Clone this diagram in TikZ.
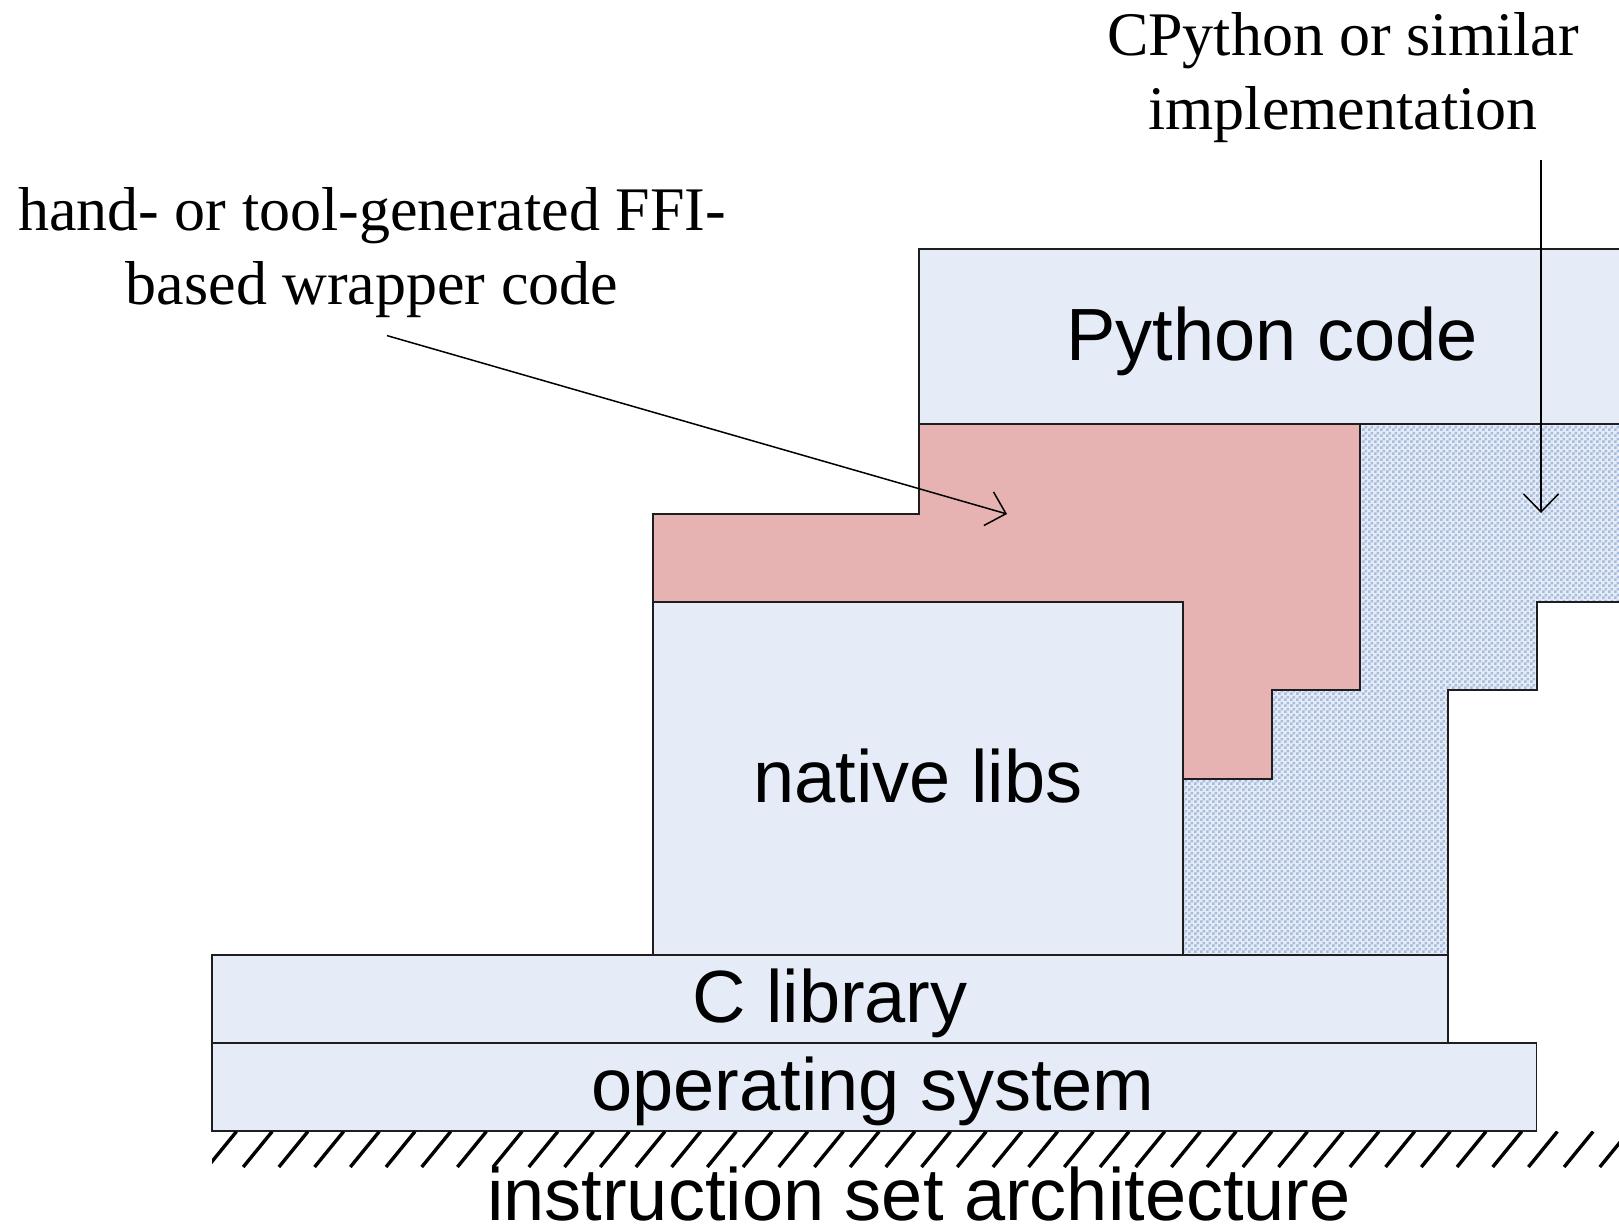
\documentclass[tikz,border=0pt]{standalone}
\usepackage{fontspec}
\setmainfont{Liberation Serif}
\newfontfamily\arialf{Liberation Sans}
\usetikzlibrary{arrows.meta,patterns}
\pgfdeclarepatternformonly{checker}{\pgfqpoint{0pt}{0pt}}{\pgfqpoint{6pt}{6pt}}{\pgfqpoint{6pt}{6pt}}{%
  \pgfpathrectangle{\pgfqpoint{0pt}{0pt}}{\pgfqpoint{3pt}{3pt}}%
  \pgfpathrectangle{\pgfqpoint{3pt}{3pt}}{\pgfqpoint{3pt}{3pt}}%
  \pgfusepath{fill}}
\definecolor{boxblue}{RGB}{230,236,247}
\definecolor{ffired}{RGB}{230,178,178}
\definecolor{checkblue}{RGB}{168,189,222}
\definecolor{edgegray}{RGB}{30,30,30}
\begin{document}
\begin{tikzpicture}[x=1pt,y=-1pt,
  layer/.style={draw=edgegray, line width=1.8pt, fill=boxblue, inner sep=0pt, outer sep=0pt, anchor=north west},
  regionedge/.style={draw=edgegray, line width=1.8pt},
  boxlabel/.style={font=\arialf\fontsize{74}{80}\selectfont, anchor=base, inner sep=0pt},
  note/.style={font=\fontsize{62}{74}\selectfont, align=center, inner sep=0pt},
  pointer/.style={line width=1.5pt, -{Straight Barb[length=18pt,width=35pt,line width=1.5pt]}},
  hatchline/.style={line width=3.4pt, black}
]
\useasboundingbox (0,0) rectangle (1619,1229);
\clip (0,0) rectangle (1619,1229);

% Python code layer
\node[layer, minimum width=740pt, minimum height=175pt] (pybox) at (919,249) {};

% CPython (checkered) region
\fill[boxblue] (1360,424) -- (1640,424) -- (1640,602) -- (1537,602) -- (1537,690) -- (1448,690) -- (1448,955) -- (1183,955) -- (1183,779) -- (1272,779) -- (1272,690) -- (1360,690) -- cycle;
\fill[pattern=checker, pattern color=checkblue] (1360,424) -- (1640,424) -- (1640,602) -- (1537,602) -- (1537,690) -- (1448,690) -- (1448,955) -- (1183,955) -- (1183,779) -- (1272,779) -- (1272,690) -- (1360,690) -- cycle;
\draw[regionedge] (1360,424) -- (1640,424) -- (1640,602) -- (1537,602) -- (1537,690) -- (1448,690) -- (1448,955) -- (1183,955) -- (1183,779) -- (1272,779) -- (1272,690) -- (1360,690) -- cycle;

% FFI wrapper region
\filldraw[regionedge, fill=ffired] (653,514) -- (919,514) -- (919,424) -- (1360,424) -- (1360,690) -- (1272,690) -- (1272,779) -- (1183,779) -- (1183,602) -- (653,602) -- cycle;

% native libs, C library, operating system
\node[layer, minimum width=530pt, minimum height=353pt] (nlbox) at (653,602) {};
\node[layer, minimum width=1236.3pt, minimum height=88pt] (clbox) at (211.7,955) {};
\node[layer, minimum width=1324.8pt, minimum height=87.6pt] (osbox) at (211.7,1043) {};

% hatched ISA strip
\begin{scope}
  \clip (212,1131.5) rectangle (1619,1167);
  \foreach \k in {0,...,40} {
    \draw[hatchline] ({207.5+35.7*\k},1167) -- ({236.5+35.7*\k},1131.5);
  }
\end{scope}

% labels
\node[boxlabel] (pytext) at (1272,360) {Python code};
\node[boxlabel] (nltext) at (918,802) {native libs};
\node[boxlabel] (cltext) at (830,1022) {C library};
\node[boxlabel] (ostext) at (873,1110) {operating system};
\node[boxlabel] (isatext) at (919,1220) {instruction set architecture};

\node[note] (ffitext) at (372,253) {hand- or tool-generated FFI-\\based wrapper code};
\node[note] (cpytext) at (1343,78) {CPython or similar\\implementation};

% pointers
\coordinate (ffistart) at (387,335.6);
\coordinate (ffitip) at (1007,514);
\coordinate (cpystart) at (1541,160);
\coordinate (cpytip) at (1541,513);
\draw[pointer] (ffistart) -- (ffitip);
\draw[pointer] (cpystart) -- (cpytip);
\end{tikzpicture}
\end{document}
